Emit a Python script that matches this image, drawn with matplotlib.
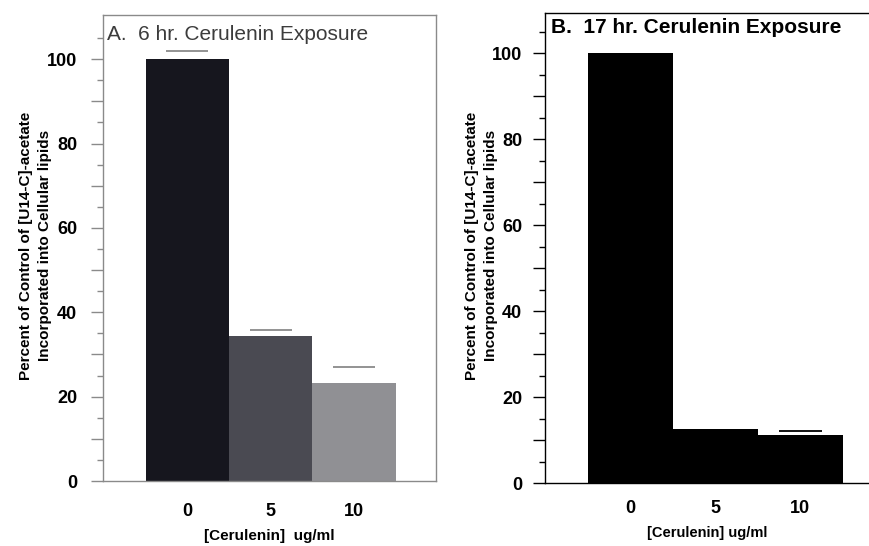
import matplotlib
matplotlib.use("Agg")
import matplotlib.pyplot as plt
import numpy as np

plt.rcParams['font.family'] = ['Liberation Sans', 'DejaVu Sans']

categories = ["0", "5", "10"]
values_a = [100, 34.3, 23.3]
err_a = [1.9, 1.6, 3.7]
values_b = [100, 12.6, 11.2]
err_b = [0.0, 0.0, 1.0]
colors_a = ["#16161e", "#4a4a52", "#909094"]
colors_b = ["#000000", "#000000", "#000000"]
title_a = "A.  6 hr. Cerulenin Exposure"
title_b = "B.  17 hr. Cerulenin Exposure"
ylabel = "Percent of Control of [U14-C]-acetate\nIncorporated into Cellular lipids"
xlabel_a = "[Cerulenin]  ug/ml"
xlabel_b = "[Cerulenin] ug/ml"
ytick_vals = [0, 10, 20, 30, 40, 50, 60, 70, 80, 90, 100]
ytick_labels = ["0", "", "20", "", "40", "", "60", "", "80", "", "100"]
yminor_vals = [5, 15, 25, 35, 45, 55, 65, 75, 85, 95, 105]

fig = plt.figure(figsize=(8.7, 5.46), dpi=100)
axA = fig.add_axes([103 / 870, 1 - 481 / 546, 333 / 870, (481 - 14.5) / 546])
axB = fig.add_axes([545 / 870, 1 - 483 / 546, 325 / 870, (483 - 12.7) / 546])


def style(ax, spine_color, err_color, values, err, colors, title, title_color,
          title_weight, title_xy, xlab, xlab_size, xpad, ypad, ylx, xlim, ylim):
    x = np.arange(len(categories))
    ax.bar(x, values, width=1.0, color=colors, edgecolor='none', zorder=2)
    tops = np.array(values) + np.array(err)
    for xi, t, e in zip(x, tops, err):
        if e > 0:
            ax.hlines(t, xi - 0.25, xi + 0.25, color=err_color, lw=1.3, zorder=3)
    ax.set_xlim(*xlim)
    ax.set_ylim(*ylim)
    ax.set_xticks(x)
    ax.set_xticklabels(categories, fontsize=13, fontweight='bold')
    ax.set_yticks(ytick_vals)
    ax.set_yticklabels(ytick_labels, fontsize=13, fontweight='bold')
    ax.set_yticks(yminor_vals, minor=True)
    ax.tick_params(axis='x', length=0, pad=xpad)
    ax.tick_params(axis='y', which='major', direction='out', length=9, width=1,
                   color=spine_color, pad=ypad)
    ax.tick_params(axis='y', which='minor', direction='out', length=4.5, width=1,
                   color=spine_color)
    for s in ax.spines.values():
        s.set_color(spine_color)
        s.set_linewidth(1.0)
    ax.set_xlabel(xlab, fontsize=xlab_size, fontweight='bold', labelpad=6)
    ax.set_ylabel(ylabel, fontsize=11, fontweight='bold', linespacing=1.45)
    ax.yaxis.set_label_coords(ylx, 0.505)
    ax.text(title_xy[0], title_xy[1], title, transform=ax.transAxes, ha='left', va='top',
            fontsize=15, color=title_color, fontweight=title_weight)


style(axA, "#8a8a8a", "#8a8a8a", values_a, err_a, colors_a, title_a, "#3c3c3c", 'normal',
      (0.012, 0.978), xlabel_a, 11, 16, 9.7, -0.153, (-1.01, 2.98), (0, 110.6))
style(axB, "#000000", "#000000", values_b, err_b, colors_b, title_b, "#000000", 'bold',
      (0.018, 0.989), xlabel_b, 10.5, 12.5, 7.5, -0.145, (-1.006, 2.82), (0, 109.4))
axB.spines['right'].set_visible(False)

fig.savefig("out.png", dpi=100)
